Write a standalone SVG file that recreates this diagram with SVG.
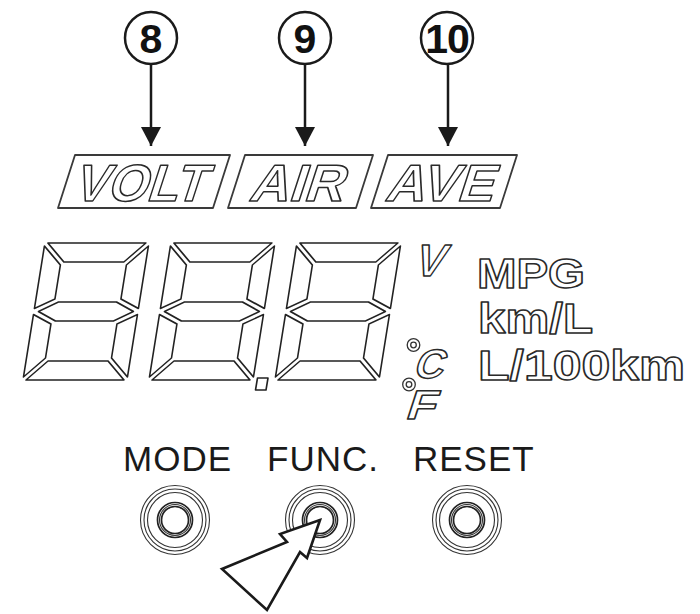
<svg xmlns="http://www.w3.org/2000/svg" xmlns:xlink="http://www.w3.org/1999/xlink" width="700" height="614" viewBox="0 0 700 614">
<style>
.ln{fill:none;stroke:#1a1a1a;stroke-width:2.5}
.num{font-family:"Liberation Sans",Arial,sans-serif;font-weight:bold;font-size:41px;fill:#111;text-anchor:middle}
.box{fill:#fff;stroke:#3a3a3a;stroke-width:1.8;stroke-linejoin:round}
.ol{font-family:"Liberation Sans",Arial,sans-serif;font-weight:bold;fill:#fff;stroke:#2a2a2a;stroke-width:1.5;stroke-linejoin:round}
.seg{fill:#fff;stroke:#222;stroke-width:1.6;stroke-linejoin:round}
.btn{font-family:"Liberation Sans",Arial,sans-serif;font-size:35px;fill:#1a1a1a;letter-spacing:1px}
.ring{fill:none;stroke:#333;stroke-width:1.1}
.ring2{fill:none;stroke:#222;stroke-width:1.7}
.deg{fill:#fff;stroke:#333;stroke-width:1.3}
</style>
<defs>
<marker id="ah" viewBox="0 0 19 20" refX="19" refY="10" markerWidth="19" markerHeight="20" markerUnits="userSpaceOnUse" orient="auto">
<path d="M0,0 L19,10 L0,20 z" fill="#1a1a1a"/>
</marker>
<g id="digit">
<polygon class="seg" points="3,0 101,0 82,19 22,19"/>
<polygon class="seg" points="0,3 19,22 19,56 0,65.5"/>
<polygon class="seg" points="104,3 104,65.5 85,56 85,22"/>
<polygon class="seg" points="4.5,68.5 23,59 81,59 99.5,68.5 81,78 23,78"/>
<polygon class="seg" points="0,71.5 19,81 19,115 0,134"/>
<polygon class="seg" points="104,71.5 104,134 85,115 85,81"/>
<polygon class="seg" points="3,137 101,137 82,118 22,118"/>
</g>
<g id="btnrings">
<circle class="ring" r="34.5"/>
<circle class="ring" r="31"/>
<circle class="ring" r="27.5"/>
<circle class="ring2" r="17.5"/>
<circle class="ring" r="15.5"/>
<circle class="ring2" r="13.5"/>
</g>
</defs>

<g id="callout-8">
<circle class="ln" cx="151" cy="38" r="26"/>
<text class="num" x="151" y="53">8</text>
</g>
<g id="callout-9">
<circle class="ln" cx="305" cy="38" r="26"/>
<text class="num" x="305" y="53">9</text>
</g>
<g id="callout-10">
<circle class="ln" cx="447" cy="38" r="26"/>
<text class="num" x="447" y="53" letter-spacing="-1">10</text>
</g>

<g id="connectors">
<line class="ln" x1="151" y1="64" x2="151" y2="146" marker-end="url(#ah)"/>
<line class="ln" x1="305" y1="64" x2="305" y2="146" marker-end="url(#ah)"/>
<line class="ln" x1="448" y1="64" x2="448" y2="146" marker-end="url(#ah)"/>
</g>

<g id="label-volt">
<polygon class="box" points="75,155 230,155 213,208 58,208"/>
<text class="ol" font-size="52" text-anchor="middle" textLength="132" lengthAdjust="spacingAndGlyphs" transform="translate(138,201) skewX(-18)">VOLT</text>
</g>
<g id="label-air">
<polygon class="box" points="245,155 373,155 356,208 228,208"/>
<text class="ol" font-size="52" text-anchor="middle" textLength="94" lengthAdjust="spacingAndGlyphs" transform="translate(295,201) skewX(-18)">AIR</text>
</g>
<g id="label-ave">
<polygon class="box" points="388,155 517,155 500,208 371,208"/>
<text class="ol" font-size="52" text-anchor="middle" textLength="108" lengthAdjust="spacingAndGlyphs" transform="translate(438,201) skewX(-18)">AVE</text>
</g>

<g id="display">
<use xlink:href="#digit" href="#digit" transform="translate(23,243) matrix(1,0,-0.16,1,21.9,0)"/>
<use xlink:href="#digit" href="#digit" transform="translate(149,243) matrix(1,0,-0.16,1,21.9,0)"/>
<use xlink:href="#digit" href="#digit" transform="translate(275,243) matrix(1,0,-0.16,1,21.9,0)"/>
<polygon class="seg" points="257.5,378 268,378 266,390 255.5,390"/>
</g>

<g id="unit-symbols">
<text class="ol" font-size="45" text-anchor="middle" transform="translate(427,276) skewX(-18)">V</text>
<circle class="deg" cx="413.5" cy="345" r="6.3"/>
<circle class="deg" cx="413.5" cy="345" r="2.8"/>
<text class="ol" font-size="41" text-anchor="middle" transform="translate(427,378) skewX(-18)">C</text>
<circle class="deg" cx="409" cy="384.5" r="6.3"/>
<circle class="deg" cx="409" cy="384.5" r="2.8"/>
<text class="ol" font-size="41" text-anchor="middle" textLength="29" lengthAdjust="spacingAndGlyphs" transform="translate(419,419) skewX(-18)">F</text>
</g>

<g id="units">
<text class="ol" font-size="42" x="477" y="288" textLength="108" lengthAdjust="spacingAndGlyphs">MPG</text>
<text class="ol" font-size="42" x="478" y="333" textLength="115" lengthAdjust="spacingAndGlyphs">km/L</text>
<text class="ol" font-size="43" x="478" y="380" textLength="207" lengthAdjust="spacingAndGlyphs">L/100km</text>
</g>

<g id="button-mode">
<text class="btn" x="123" y="471">MODE</text>
<use xlink:href="#btnrings" href="#btnrings" transform="translate(175,520)"/>
</g>
<g id="button-func">
<text class="btn" x="267" y="471">FUNC.</text>
<use xlink:href="#btnrings" href="#btnrings" transform="translate(320,520)"/>
</g>
<g id="button-reset">
<text class="btn" x="413" y="471">RESET</text>
<use xlink:href="#btnrings" href="#btnrings" transform="translate(467,520)"/>
</g>

<g id="pointer">
<polygon points="320,520 280,534 287,542 222,569 267,610 300,552 307,558" fill="#fff" stroke="#1a1a1a" stroke-width="2.6" stroke-linejoin="miter"/>
</g>
</svg>
